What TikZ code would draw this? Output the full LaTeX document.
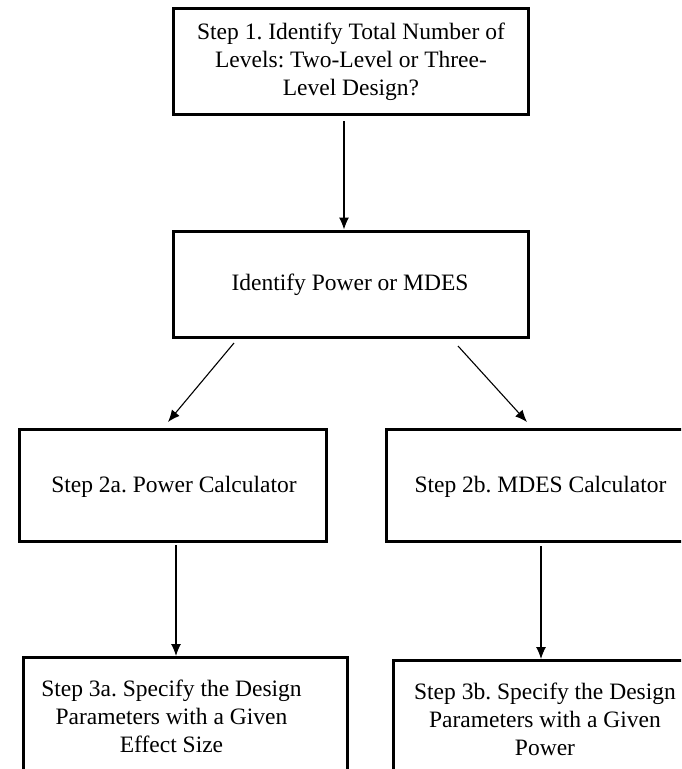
\documentclass[tikz,border=0pt]{standalone}
\usepackage{fontspec}
\setmainfont{Liberation Serif}
\frenchspacing
\usetikzlibrary{arrows.meta,calc}
\tikzset{
  box/.style={draw=black, line width=3pt, rectangle, inner sep=0pt},
  txt/.style={align=center, font=\fontsize{23.5pt}{28pt}\selectfont, inner sep=0pt},
  arr/.style={draw=black, line width=1.1pt, -{Latex[length=12pt,width=10pt]}}
}
\begin{document}
\begin{tikzpicture}[x=1pt,y=-1pt]
\clip (0,0) rectangle (681,769);
\fill[white] (0,0) rectangle (681,769);
% boxes
\node[box, minimum width=355pt, minimum height=106pt] (b1) at (350.5,61) {};
\node[box, minimum width=355pt, minimum height=106pt] (b2) at (350.5,284) {};
\node[box, minimum width=307pt, minimum height=112pt] (b2a) at (172.5,485) {};
\node[box, minimum width=309pt, minimum height=112pt] (b2b) at (540.5,485) {};
\node[box, minimum width=324pt, minimum height=150pt] (b3a) at (185,732.5) {};
\node[box, minimum width=306pt, minimum height=150pt] (b3b) at (546,735.5) {};
% texts
\node[txt] (t1) at (351,62) {Step 1. Identify Total Number of\\Levels: Two-Level or Three-\\Level Design?};
\node[txt] (t2) at (350,285) {Identify Power or MDES};
\node[txt] (t2a) at (174,487) {Step 2a. Power Calculator};
\node[txt] (t2b) at (540.5,487) {Step 2b. MDES Calculator};
\node[txt] (t3a) at (171.5,716) {Step 3a. Specify the Design\\Parameters with a Given\\Effect Size};
\node[txt] (t3b) at (545,719) {Step 3b. Specify the Design\\Parameters with a Given\\Power};
% connector ends
\coordinate (s1) at (344,121);
\coordinate (s2) at (234,343);
\coordinate (e2) at (168,422);
\coordinate (s3) at (458,346);
\coordinate (e3) at (527,422);
\coordinate (s4) at (176,545);
\coordinate (s5) at (541,546);
% connectors
\draw[arr] (s1) -- (s1 |- b2.north);
\draw[arr] (s2) -- (e2);
\draw[arr] (s3) -- (e3);
\draw[arr] (s4) -- (s4 |- b3a.north);
\draw[arr] (s5) -- (s5 |- b3b.north);
\end{tikzpicture}
\end{document}
